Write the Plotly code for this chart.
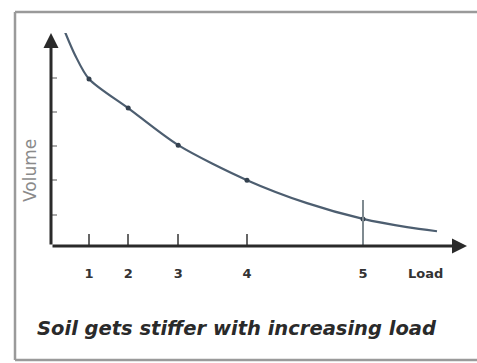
import plotly.graph_objects as go

# Load steps marked along the horizontal axis (schematic, unevenly spaced)
load_labels = ["1", "2", "3", "4", "5"]
load_axis_pos = [0.95, 1.93, 3.18, 4.9, 7.8]
volume_at_load = [4.96, 4.11, 3.03, 2.01, 0.88]

# Smooth compression curve (volume falling as load grows)
curve_load = [0.35, 0.6, 0.95, 1.93, 3.18, 4.9, 6.4, 7.8, 8.9, 9.65]
curve_volume = [6.33, 5.66, 4.96, 4.11, 3.03, 2.01, 1.34, 0.88, 0.64, 0.52]

volume_ticks = [1, 2, 3, 4, 5]

X_MAX = 10.5
Y_MIN, Y_MAX = 0.09, 6.3
AXIS_COLOR = "#2a2a2a"
CURVE_COLOR = "#4d5e70"
FRAME_COLOR = "#9a9a9a"
FONT = "DejaVu Sans"

fig = go.Figure()

fig.add_trace(go.Scatter(
    x=curve_load, y=curve_volume, mode="lines",
    line=dict(color=CURVE_COLOR, width=2.2, shape="spline", smoothing=0.8),
    hoverinfo="skip", showlegend=False,
))
fig.add_trace(go.Scatter(
    x=load_axis_pos, y=volume_at_load, mode="markers",
    marker=dict(color="#34414f", size=5),
    showlegend=False,
))

# Taller guide mark at the last load step
fig.add_shape(type="line", xref="x", yref="y",
              x0=load_axis_pos[-1], x1=load_axis_pos[-1], y0=Y_MIN, y1=1.43,
              line=dict(color="#7f8a90", width=2))

# Axes drawn as arrows
fig.add_annotation(x=X_MAX - 0.1, y=Y_MIN, ax=0, ay=Y_MIN,
                   xref="x", yref="y", axref="x", ayref="y",
                   showarrow=True, arrowhead=2, arrowsize=1, arrowwidth=3,
                   arrowcolor=AXIS_COLOR, text="")
fig.add_annotation(x=0, y=Y_MAX, ax=0, ay=Y_MIN,
                   xref="x", yref="y", axref="x", ayref="y",
                   showarrow=True, arrowhead=2, arrowsize=1, arrowwidth=3,
                   arrowcolor=AXIS_COLOR, text="")

# Axis captions
fig.add_annotation(x=9.35, y=-0.13, xref="x", yref="paper", yanchor="middle",
                   text="Load", showarrow=False,
                   font=dict(family=FONT, size=13, color="#333", weight="bold"))
fig.add_annotation(x=-0.05, y=0.352, xref="paper", yref="paper",
                   xanchor="center", yanchor="middle",
                   text="Volume", textangle=-90, showarrow=False,
                   font=dict(family=FONT, size=17, color="#8a8a8a"))
fig.add_annotation(x=0.443, y=-0.385, xref="paper", yref="paper", yanchor="middle",
                   text="<i>Soil gets stiffer with increasing load</i>",
                   showarrow=False,
                   font=dict(family=FONT, size=19.5, color="#2a2a2a", weight="bold"))

# Outer frame: left, top and bottom edges
for x0, y0, x1, y1 in [(-0.0857, -0.535, -0.0857, 1.0986),
                       (-0.0857, 1.0986, 1.5, 1.0986),
                       (-0.0857, -0.535, 1.5, -0.535)]:
    fig.add_shape(type="line", xref="paper", yref="paper",
                  x0=x0, y0=y0, x1=x1, y1=y1,
                  line=dict(color=FRAME_COLOR, width=2.5), layer="below")

fig.update_xaxes(range=[0, X_MAX], showgrid=False, zeroline=False, showline=False,
                 tickmode="array", tickvals=load_axis_pos, ticktext=load_labels,
                 ticks="inside", ticklen=12, tickwidth=2, tickcolor="#666",
                 ticklabelstandoff=18,
                 tickfont=dict(family=FONT, size=13, color="#333", weight="bold"))
fig.update_yaxes(range=[Y_MIN, Y_MAX], showgrid=False, zeroline=False, showline=False,
                 tickmode="array", tickvals=volume_ticks, showticklabels=False,
                 ticks="inside", ticklen=6, tickwidth=1.5, tickcolor="#aaa")

fig.update_layout(
    width=477, height=363,
    margin=dict(l=51, r=6, t=33, b=117),
    paper_bgcolor="white", plot_bgcolor="white",
)

fig.write_html("out.html")
